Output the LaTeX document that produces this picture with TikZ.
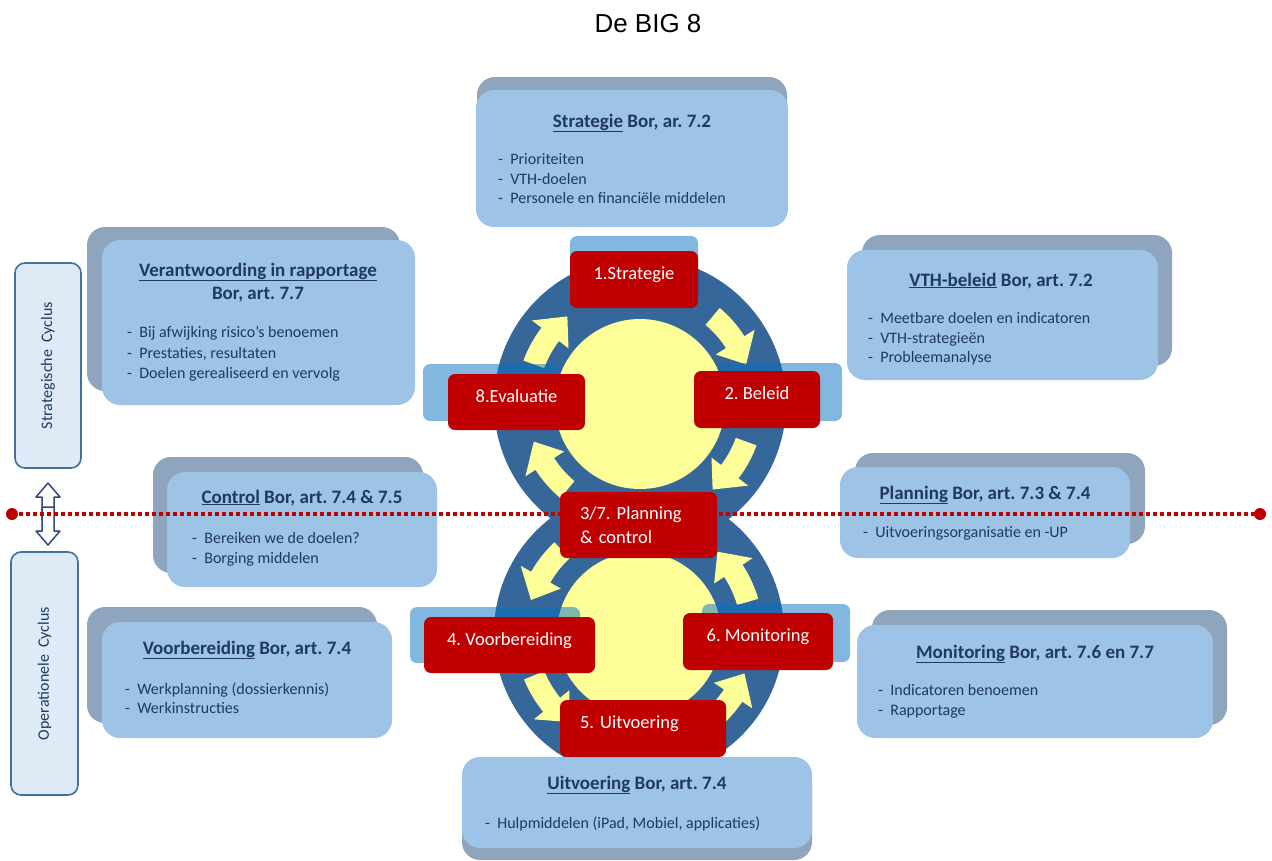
\documentclass[tikz,border=0pt]{standalone}
\usepackage{fontspec}
\setmainfont{Carlito}
\newfontfamily\titlefont{Liberation Sans}
\frenchspacing
\definecolor{navy}{HTML}{1F3864}
\definecolor{cardblue}{HTML}{9DC3E6}
\definecolor{cardgrey}{HTML}{8EA5BD}
\definecolor{tagred}{HTML}{C00000}
\definecolor{tabblue}{RGB}{7,113,193}
\definecolor{ringblue}{HTML}{35679A}
\definecolor{sunyellow}{HTML}{FFFF99}
\definecolor{cyclefill}{HTML}{DEEBF7}
\definecolor{cycleline}{HTML}{41719C}
\definecolor{arrowline}{HTML}{2E4A7A}
\newcommand{\ringarrow}[2]{%
  \pgfmathsetmacro{\headbase}{(#1)+0.58*((#2)-(#1))}%
  \fill[sunyellow] ({#1}:124) arc[start angle={#1}, end angle=\headbase, radius=124]
    -- (\headbase:136) -- ({#2}:113) -- (\headbase:90) -- (\headbase:102)
    arc[start angle=\headbase, end angle={#1}, radius=102] -- cycle;}
\begin{document}
\begin{tikzpicture}[x=1pt,y=-1pt,
  backcard/.style={fill=cardgrey, rounded corners=18pt, inner sep=0pt},
  frontcard/.style={fill=cardblue, rounded corners=18pt, inner sep=0pt},
  cardtitle/.style={font=\fontsize{19}{23}\selectfont\bfseries, text=navy, inner sep=0pt, text height=13pt, text depth=5pt},
  carditem/.style={font=\fontsize{16}{19}\selectfont, text=navy, anchor=west, inner sep=0pt, text height=11pt, text depth=4pt},
  redtag/.style={fill=tagred, text=white, rounded corners=7pt, font=\fontsize{18.5}{24}\selectfont, inner sep=0pt},
  lifted/.style={text height=11pt, text depth=11pt},
  tabstrip/.style={fill=tabblue, fill opacity=.5, rounded corners=7pt},
  cyclebox/.style={fill=cyclefill, draw=cycleline, line width=1.6pt, rounded corners=10pt, inner sep=0pt, text=navy, font=\fontsize{16}{19}\selectfont},
  dblarrow/.style={draw=arrowline, fill=white, line width=1.5pt, line join=round},
  dotline/.style={tagred, line width=3.5pt, dash pattern=on 3.5pt off 3.5pt}]
  \useasboundingbox[fill=white] (0,0) rectangle (1272,860);
  \node[font=\titlefont\fontsize{26}{30}\selectfont] (title) at (648,24) {De BIG 8};

  % the two cycles
  \fill[ringblue] (640,403) circle[radius=146];
  \fill[ringblue] (639,633) circle[radius=145];
  \fill[sunyellow] (640,404) circle[radius=85];
  \fill[sunyellow] (639,634) circle[radius=82];
  \begin{scope}[shift={(640,403)}]
    \foreach \a in {-145,-35,35,145}
      \ringarrow{\a-15}{\a+15};
  \end{scope}
  \begin{scope}[shift={(639,633)}]
    \foreach \a in {-148,-31,36,143}
      \ringarrow{\a+15}{\a-15};
  \end{scope}

  % cards
  \node[backcard, minimum width=310pt, minimum height=137pt] (strat-back) at (632,145.5) {};
  \node[frontcard, minimum width=312pt, minimum height=137pt] (strat) at (632,158.5) {};
  \node[cardtitle] (strat-t) at (632,123) {\underline{Strategie} Bor, ar. 7.2};
  \foreach \t [count=\i] in {Prioriteiten, VTH-doelen, Personele en financiële middelen}
    \node[carditem] (strat-\i) at (498,141.5+\i*19.5) {-\ \ \t};

  \node[backcard, minimum width=313pt, minimum height=164pt] (verant-back) at (243.5,309) {};
  \node[frontcard, minimum width=313pt, minimum height=165pt] (verant) at (258.5,322.5) {};
  \node[cardtitle] (verant-t) at (258,272) {\underline{Verantwoording in rapportage}};
  \node[cardtitle] (verant-t2) at (258,295) {Bor, art. 7.7};
  \foreach \t [count=\i] in {Bij afwijking risico’s benoemen, {Prestaties, resultaten}, Doelen gerealiseerd en vervolg}
    \node[carditem] (verant-\i) at (127,313.5+\i*20.5) {-\ \ \t};

  \node[backcard, minimum width=310pt, minimum height=131pt] (vth-back) at (1017,300.5) {};
  \node[frontcard, minimum width=311pt, minimum height=130pt] (vth) at (1002.5,315) {};
  \node[cardtitle] (vth-t) at (1001,282) {\underline{VTH-beleid} Bor, art. 7.2};
  \foreach \t [count=\i] in {Meetbare doelen en indicatoren, VTH-strategieën, Probleemanalyse}
    \node[carditem] (vth-\i) at (868,300.5+\i*19.5) {-\ \ \t};

  \node[backcard, minimum width=270pt, minimum height=116pt] (control-back) at (288,515) {};
  \node[frontcard, minimum width=270pt, minimum height=115pt] (control) at (302,529.5) {};
  \node[cardtitle] (control-t) at (302,499) {\underline{Control} Bor, art. 7.4 \& 7.5};
  \foreach \t [count=\i] in {Bereiken we de doelen?, Borging middelen}
    \node[carditem] (control-\i) at (192,519.5+\i*20) {-\ \ \t};

  \node[backcard, minimum width=290pt, minimum height=91pt] (plan-back) at (1000,498.5) {};
  \node[frontcard, minimum width=290pt, minimum height=91pt] (plan) at (985,512.5) {};
  \node[cardtitle] (plan-t) at (985,495) {\underline{Planning} Bor, art. 7.3 \& 7.4};
  \node[carditem] (plan-1) at (863,533.5) {-\ \ Uitvoeringsorganisatie en -UP};

  \node[backcard, minimum width=290pt, minimum height=116pt] (voorb-back) at (232,665) {};
  \node[frontcard, minimum width=290pt, minimum height=116pt] (voorb) at (247,680) {};
  \node[cardtitle] (voorb-t) at (247,650) {\underline{Voorbereiding} Bor, art. 7.4};
  \foreach \t [count=\i] in {Werkplanning (dossierkennis), Werkinstructies}
    \node[carditem] (voorb-\i) at (125,671+\i*19.5) {-\ \ \t};

  \node[backcard, minimum width=355pt, minimum height=115pt] (monit-back) at (1049.5,667.5) {};
  \node[frontcard, minimum width=356pt, minimum height=113pt] (monit) at (1035,681.5) {};
  \node[cardtitle] (monit-t) at (1035,654) {\underline{Monitoring} Bor, art. 7.6 en 7.7};
  \foreach \t [count=\i] in {Indicatoren benoemen, Rapportage}
    \node[carditem] (monit-\i) at (878,671.5+\i*20) {-\ \ \t};

  \node[backcard, minimum width=350pt, minimum height=90pt] (uitv-back) at (637,815) {};
  \node[frontcard, minimum width=350pt, minimum height=91pt] (uitv) at (637,802.5) {};
  \node[cardtitle] (uitv-t) at (637,785) {\underline{Uitvoering} Bor, art. 7.4};
  \node[carditem] (uitv-1) at (485,824.5) {-\ \ Hulpmiddelen (iPad, Mobiel, applicaties)};

  % left side
  \node[cyclebox, rotate=90, minimum width=205pt, minimum height=66pt] (stratcycle) at (48,365.5) {Strategische\ \ Cyclus};
  \node[cyclebox, rotate=90, minimum width=243pt, minimum height=67pt] (opercycle) at (44.5,673.5) {Operationele\ \ Cyclus};
  \draw[dblarrow] (48,483) -- (60,497) -- (54,497) -- (54,520) -- (42,520) -- (42,497) -- (36,497) -- cycle;
  \draw[dblarrow] (48,545) -- (60,531) -- (54,531) -- (54,507) -- (42,507) -- (42,531) -- (36,531) -- cycle;

  % tabs behind the steps
  \fill[tabstrip] (570,236) rectangle (698,290);
  \fill[tabstrip] (423,364) rectangle (558,421);
  \fill[tabstrip] (718,363) rectangle (842,421);
  \fill[tabstrip] (410,607) rectangle (580,663);
  \fill[tabstrip] (702,604) rectangle (850,662);

  \coordinate (lineL) at (12,514);
  \coordinate (lineR) at (1260,514);
  \draw[dotline] (lineL) -- (lineR);
  \fill[tagred] (lineL) circle[radius=6];
  \fill[tagred] (lineR) circle[radius=6];

  % steps
  \node[redtag, lifted, minimum width=128pt, minimum height=57pt] (step1) at (634,279.5) {1.Strategie};
  \node[redtag, lifted, minimum width=126pt, minimum height=57pt] (step2) at (757,399.5) {2. Beleid};
  \node[redtag, minimum width=157pt, minimum height=66pt, text width=117pt, align=left, inner xsep=20pt] (step37) at (638.5,525) {3/7. Planning\\\& control};
  \node[redtag, lifted, minimum width=171pt, minimum height=56pt] (step4) at (509.5,645) {4. Voorbereiding};
  \node[redtag, lifted, minimum width=166pt, minimum height=57pt, text width=126pt, align=left, inner xsep=20pt] (step5) at (643,728.5) {5. Uitvoering};
  \node[redtag, lifted, minimum width=150pt, minimum height=57pt] (step6) at (758,641.5) {6. Monitoring};
  \node[redtag, lifted, minimum width=137pt, minimum height=56pt] (step8) at (516.5,402) {8.Evaluatie};
\end{tikzpicture}
\end{document}
